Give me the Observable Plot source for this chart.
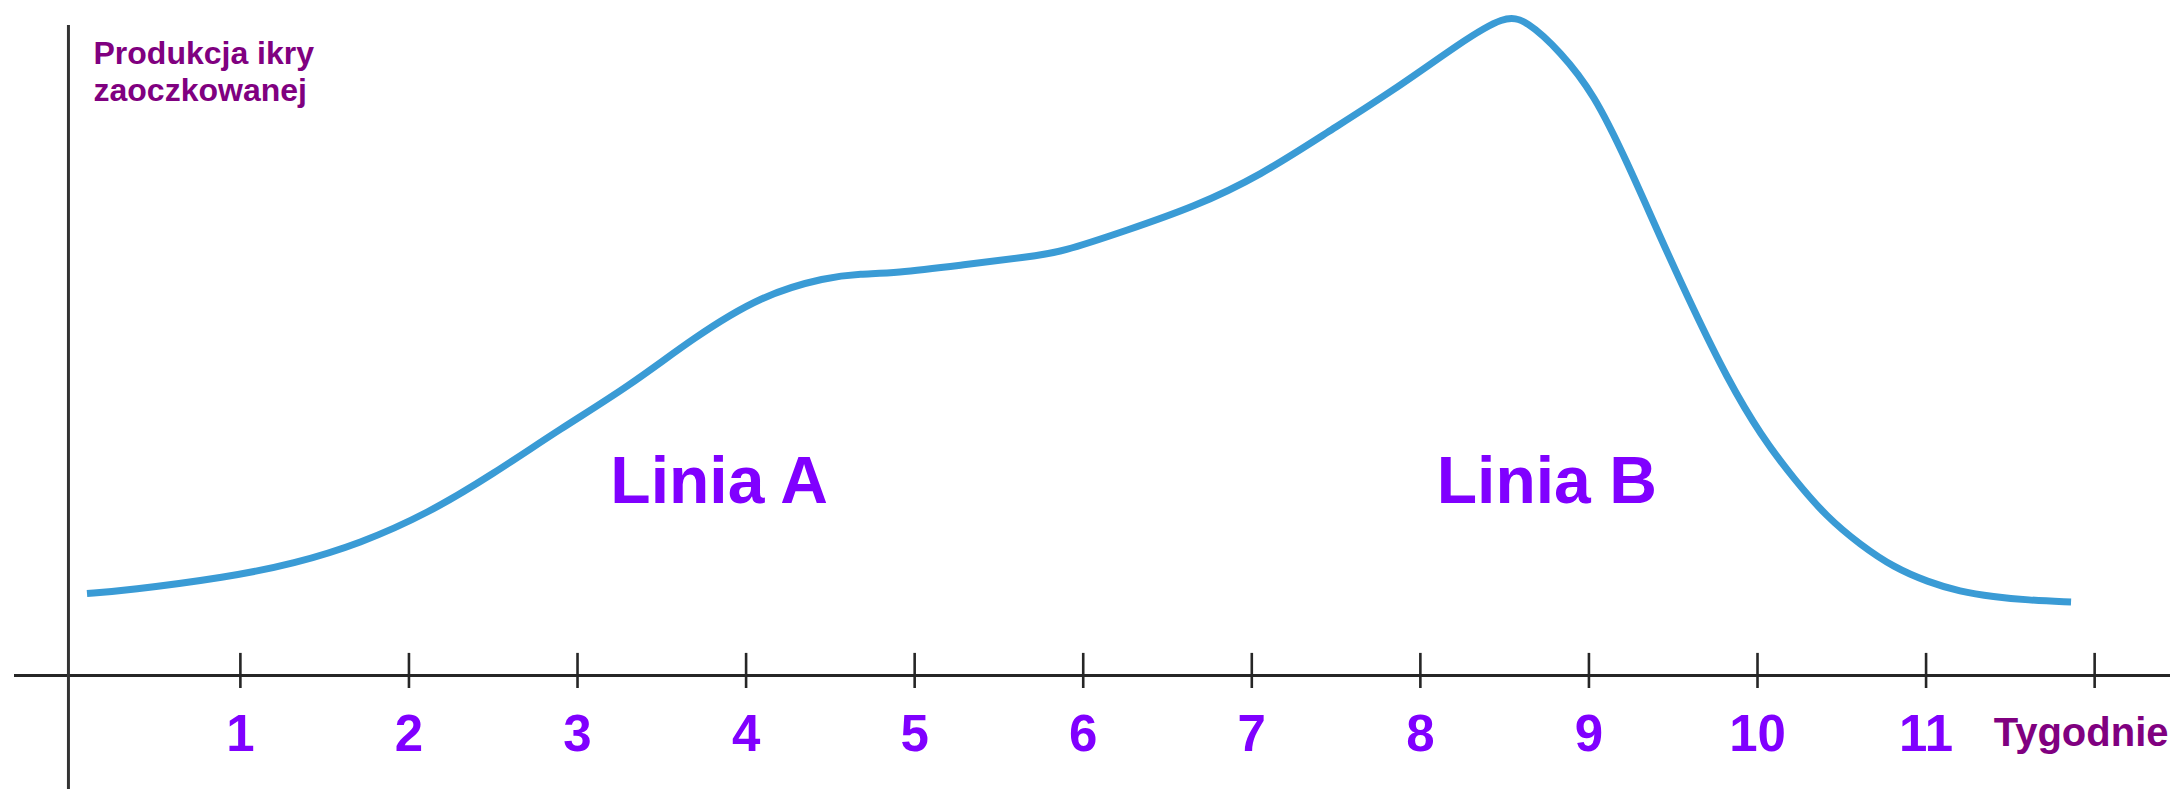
<!DOCTYPE html>
<html>
<head>
<meta charset="utf-8">
<script src="https://cdn.jsdelivr.net/npm/d3@7"></script>
<script src="https://cdn.jsdelivr.net/npm/@observablehq/plot@0.6"></script>
<style>
  html, body { margin: 0; padding: 0; background: #ffffff; }
  #chart svg { display: block; }
</style>
</head>
<body>
<div id="chart"></div>
<script>
// Curve: weeks (x) and egg production level (y, arbitrary units)
const weeks = [0.09, 0.33, 0.92, 1.32, 1.71, 2.11, 2.50, 2.90, 3.30, 3.69, 4.09, 4.48, 4.68, 4.88, 5.27, 5.67, 5.87, 6.26, 6.66, 7.05, 7.45, 7.84, 8.24, 8.50, 8.63, 8.83, 9.03, 9.23, 9.42, 9.62, 9.82, 10.02, 10.22, 10.41, 10.61, 10.81, 11.01, 11.20, 11.40, 11.60, 11.86];
const production = [12.6, 13.1, 15.1, 17.2, 20.3, 24.9, 31.0, 38.0, 44.4, 52.0, 58.5, 61.3, 61.8, 61.9, 63.1, 64.4, 65.1, 68.5, 72.1, 76.9, 83.6, 90.0, 97.4, 101.6, 100.8, 96.0, 89.5, 78.8, 67.6, 56.3, 45.7, 36.9, 30.1, 24.4, 20.1, 16.6, 14.4, 12.9, 12.1, 11.6, 11.3];

// Axis ticks and labels
const tickWeeks = [1, 2, 3, 4, 5, 6, 7, 8, 9, 10, 11, 12];
const tickLabels = ["1", "2", "3", "4", "5", "6", "7", "8", "9", "10", "11"];
const xTitle = "Tygodnie";
const yTitle = "Produkcja ikry\nzaoczkowanej";

// Annotations
const lineNames = ["Linia A", "Linia B"];
const lineNameWeeks = [3.84, 8.75];
const lineNameLevels = [26.5, 26.5];

const curve = weeks.map((w, i) => ({week: w, value: production[i]}));
const labels = tickLabels.map(t => ({week: +t, text: t}));
const names = lineNames.map((n, i) => ({name: n, week: lineNameWeeks[i], level: lineNameLevels[i]}));

const chart = Plot.plot({
  width: 2177,
  height: 789,
  marginLeft: 14,
  marginRight: 7,
  marginTop: 25,
  marginBottom: 0,
  style: {fontFamily: "'Liberation Sans', Arial, Helvetica, sans-serif", background: "#ffffff"},
  x: {domain: [-0.34, 12.45], axis: null},
  y: {domain: [-17.54, 100], axis: null},
  marks: [
    // axes
    Plot.ruleY([0], {stroke: "#262626", strokeWidth: 3.2}),
    Plot.ruleX([-0.02], {stroke: "#333333", strokeWidth: 3}),
    Plot.ruleX(tickWeeks, {y1: 3.4, y2: -2.0, stroke: "#262626", strokeWidth: 2.6}),
    // tick labels
    Plot.text(labels, {
      x: "week", text: "text", frameAnchor: "bottom", lineAnchor: "bottom", dy: -39,
      fontSize: 51, fontWeight: "bold", fill: "#8000ff"
    }),
    Plot.text([xTitle], {
      frameAnchor: "bottom-right", textAnchor: "end", lineAnchor: "bottom", dx: -2, dy: -44,
      fontSize: 40, fontWeight: "bold", fill: "#800080"
    }),
    Plot.text([yTitle], {
      frameAnchor: "top-left", textAnchor: "start", lineAnchor: "top", dx: 79, dy: 12,
      lineHeight: 1.16, fontSize: 32, fontWeight: "bold", fill: "#800080"
    }),
    // curve
    Plot.line(curve, {
      x: "week", y: "value", curve: "basis",
      stroke: "#3a9bd5", strokeWidth: 7, strokeLinecap: "butt", strokeLinejoin: "round"
    }),
    // line names
    Plot.text(names, {
      x: "week", y: "level", text: "name", lineAnchor: "bottom", textAnchor: "middle",
      fontSize: 66, fontWeight: "bold", fill: "#8000ff"
    })
  ]
});

document.getElementById("chart").appendChild(chart);
</script>
</body>
</html>
